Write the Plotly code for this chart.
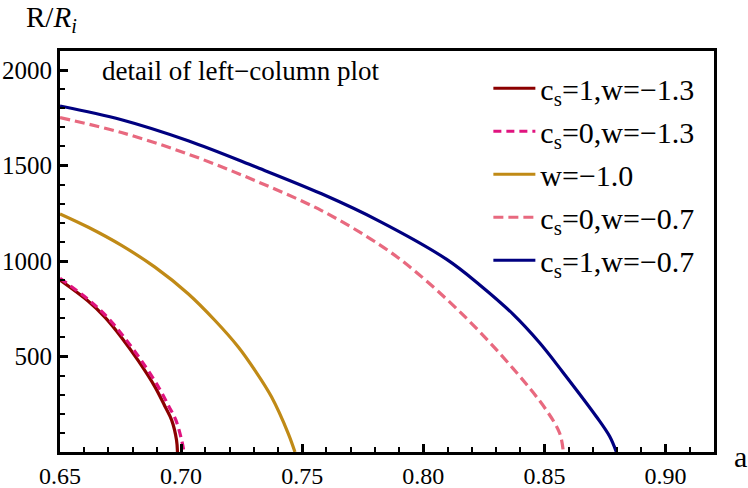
import plotly.graph_objects as go

# values
a_red = [0.650, 0.6617, 0.6686, 0.6754, 0.6823, 0.6892, 0.6933, 0.6961, 0.6981, 0.6985]
r_red = [900, 789, 705, 600, 478, 341, 240, 167, 63, 0]

a_mag = [0.650, 0.6622, 0.6693, 0.6763, 0.6834, 0.6905, 0.6948, 0.6978, 0.7002, 0.7012]
r_mag = [910, 793, 709, 604, 482, 344, 242, 168, 63, 0]

a_gold = [0.650, 0.6617, 0.6754, 0.6892, 0.7029, 0.7139, 0.7236, 0.7304, 0.7373, 0.7442, 0.7470]
r_gold = [1247, 1177, 1082, 968, 829, 690, 550, 429, 289, 98, 0]

a_pink = [0.650, 0.6754, 0.7029, 0.7304, 0.758, 0.782, 0.7958, 0.8164, 0.837, 0.8508, 0.8563, 0.8578]
r_pink = [1751, 1673, 1560, 1422, 1264, 1085, 955, 718, 438, 219, 98, 0]

a_blue = [0.650, 0.6754, 0.7029, 0.7304, 0.758, 0.782, 0.8095, 0.8233, 0.837, 0.848, 0.8576, 0.8714, 0.8769, 0.8797]
r_blue = [1812, 1740, 1630, 1495, 1352, 1208, 1010, 875, 722, 572, 418, 186, 82, 0]

names = ["c<sub>s</sub>=1,w=\u22121.3", "c<sub>s</sub>=0,w=\u22121.3", "w=\u22121.0",
         "c<sub>s</sub>=0,w=\u22120.7", "c<sub>s</sub>=1,w=\u22120.7"]
x_ticks = [0.65, 0.70, 0.75, 0.80, 0.85, 0.90]
y_ticks = [500, 1000, 1500, 2000]

FONT = "Liberation Serif"

series = [
    (a_red, r_red, "#8b0000", "solid"),
    (a_mag, r_mag, "#e0147f", "8px,5px"),
    (a_gold, r_gold, "#c08a16", "solid"),
    (a_pink, r_pink, "#e8697f", "10px,5px"),
    (a_blue, r_blue, "#000080", "solid"),
]

fig = go.Figure()
for i, ((xs, ys, col, dash), nm) in enumerate(zip(series, names)):
    fig.add_trace(go.Scatter(x=xs, y=ys, mode="lines", name=nm, legendgroup=str(i),
                             line=dict(color=col, width=3.2, dash=dash, shape="spline", smoothing=1.0)))

fig.update_xaxes(range=[0.65, 0.92], tickvals=x_ticks, ticktext=[f"{v:.2f}" for v in x_ticks],
                 ticks="inside", ticklen=8, tickwidth=2.5, tickcolor="black",
                 minor=dict(dtick=0.01, tick0=0.65, ticks="inside", ticklen=5, tickwidth=2, tickcolor="black"),
                 showline=True, linewidth=3, linecolor="black", mirror=True, automargin=False,
                 showgrid=False, zeroline=False, tickfont=dict(family=FONT, size=24, color="black"))
fig.update_yaxes(range=[0, 2100], tickvals=y_ticks,
                 ticks="inside", ticklen=8, tickwidth=2.5, tickcolor="black",
                 minor=dict(dtick=100, tick0=0, ticks="inside", ticklen=5, tickwidth=2, tickcolor="black"),
                 showline=True, linewidth=3, linecolor="black", mirror=True, automargin=False,
                 showgrid=False, zeroline=False, tickfont=dict(family=FONT, size=25, color="black"))

fig.add_annotation(text="R/<i>R</i><sub><i>i</i></sub>", xref="paper", yref="paper", x=-0.055, y=1.03,
                   xanchor="left", yanchor="bottom", showarrow=False,
                   font=dict(family=FONT, size=29, color="black"))
fig.add_annotation(text="a", xref="paper", yref="paper", x=1.027, y=-0.01,
                   xanchor="left", yanchor="middle", showarrow=False,
                   font=dict(family=FONT, size=30, color="black"))
fig.add_annotation(text="detail of left\u2212column plot", xref="paper", yref="paper", x=0.061, y=0.95,
                   xanchor="left", yanchor="middle", showarrow=False,
                   font=dict(family=FONT, size=27, color="black"))

fig.update_layout(
    width=748, height=488,
    margin=dict(l=60, r=34, t=51, b=36),
    plot_bgcolor="white", paper_bgcolor="white",
    legend=dict(x=0.655, y=0.972, xanchor="left", yanchor="top", bgcolor="rgba(0,0,0,0)",
                traceorder="grouped", tracegroupgap=1,
                itemwidth=42, font=dict(family=FONT, size=30, color="black")),
)

# drop the default 8px page margin so the figure sits at the window origin
fig.write_html("out.html", config={"displayModeBar": False},
               post_script="document.body.style.margin='0';")
